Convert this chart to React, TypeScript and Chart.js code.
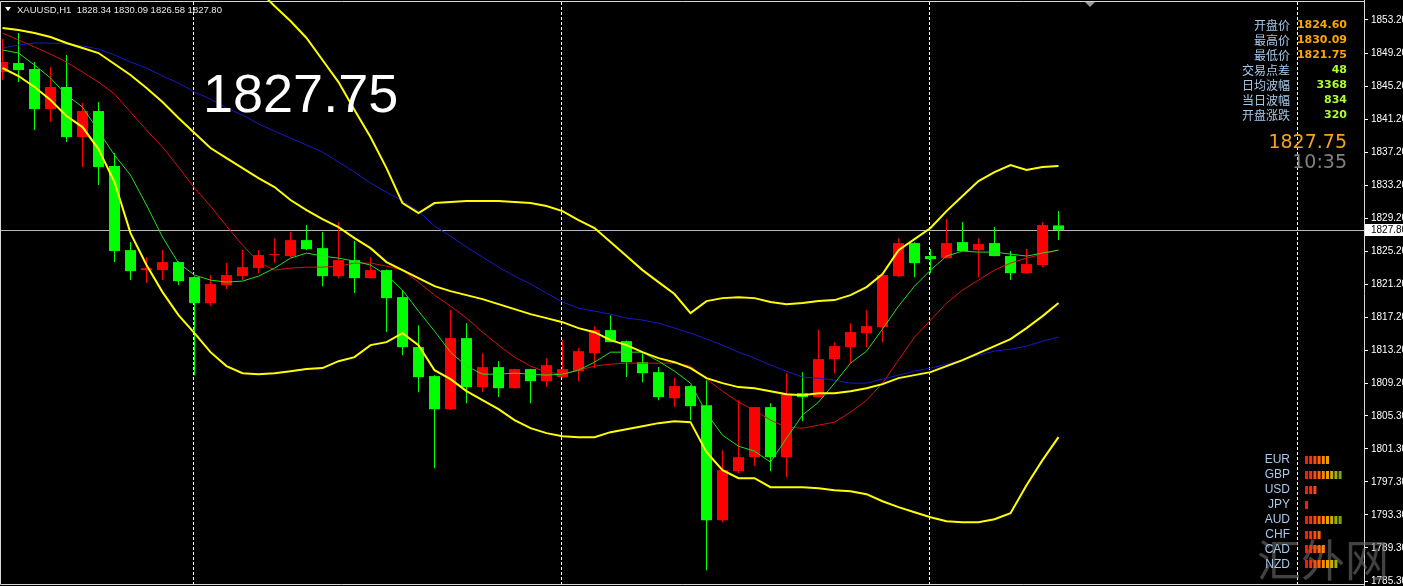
import React, { useEffect, useRef } from 'react';
import { Chart, registerables } from 'chart.js';

Chart.register(...registerables);

// ---- Candle data (XAUUSD H1) ----
const OPEN = [
  1846.90, 1847.99, 1847.27, 1842.42, 1845.09, 1839.03, 1842.18, 1835.52, 1825.35, 1822.93,
  1822.93, 1823.90, 1822.08, 1818.94, 1821.12, 1822.20, 1823.17, 1824.75, 1824.63, 1826.56,
  1825.59, 1822.20, 1824.14, 1821.96, 1822.93, 1819.66, 1813.61, 1810.10, 1806.10, 1814.70,
  1808.77, 1811.19, 1808.64, 1810.95, 1809.49, 1809.98, 1810.70, 1812.88, 1815.67, 1814.33,
  1811.79, 1810.58, 1807.43, 1808.89, 1806.59, 1792.66, 1798.60, 1800.29, 1806.35, 1800.29,
  1808.04, 1807.56, 1812.16, 1813.61, 1815.30, 1816.03, 1822.20, 1826.20, 1824.63, 1824.38,
  1826.32, 1825.35, 1826.20, 1824.63, 1822.57, 1823.54, 1828.34,
];
const HIGH = [
  1850.90, 1851.62, 1848.11, 1847.51, 1848.96, 1843.15, 1843.27, 1837.10, 1826.32, 1824.50,
  1825.35, 1824.00, 1822.20, 1822.33, 1823.78, 1825.35, 1825.35, 1826.80, 1827.53, 1828.38,
  1827.53, 1828.74, 1826.44, 1824.50, 1823.00, 1820.51, 1816.27, 1810.22, 1818.09, 1816.51,
  1812.88, 1811.91, 1811.00, 1811.00, 1812.28, 1814.46, 1813.49, 1816.15, 1817.48, 1814.40,
  1812.88, 1811.19, 1809.86, 1809.00, 1809.61, 1801.14, 1807.19, 1806.35, 1806.83, 1810.46,
  1810.58, 1815.67, 1814.21, 1816.51, 1818.09, 1822.33, 1826.80, 1826.30, 1825.47, 1829.11,
  1828.74, 1826.80, 1828.14, 1825.23, 1825.47, 1828.74, 1830.09,
];
const LOW = [
  1845.93, 1845.69, 1839.88, 1840.85, 1838.43, 1835.40, 1833.22, 1823.90, 1821.72, 1821.36,
  1821.72, 1821.12, 1810.22, 1818.57, 1820.63, 1821.72, 1822.57, 1823.78, 1824.50, 1825.35,
  1820.99, 1821.96, 1820.15, 1821.90, 1815.43, 1812.64, 1808.16, 1798.96, 1806.00, 1806.83,
  1808.16, 1807.56, 1808.60, 1806.83, 1808.77, 1809.90, 1809.49, 1811.07, 1814.20, 1809.98,
  1809.37, 1807.19, 1806.35, 1804.77, 1786.61, 1792.42, 1798.36, 1799.20, 1798.60, 1797.87,
  1804.65, 1807.50, 1810.46, 1811.67, 1813.61, 1814.21, 1822.10, 1822.08, 1822.57, 1824.30,
  1825.23, 1822.08, 1824.60, 1821.72, 1822.50, 1823.29, 1826.58,
];
const CLOSE = [
  1848.11, 1847.14, 1842.42, 1845.09, 1839.03, 1842.18, 1835.40, 1825.23, 1822.81, 1823.17,
  1823.90, 1821.60, 1818.94, 1821.24, 1822.33, 1823.29, 1824.75, 1824.87, 1826.56, 1825.47,
  1822.20, 1824.14, 1821.96, 1822.93, 1819.54, 1813.61, 1809.98, 1806.10, 1814.70, 1808.77,
  1811.19, 1808.64, 1810.95, 1809.49, 1811.43, 1810.95, 1813.12, 1815.67, 1814.21, 1811.79,
  1810.46, 1807.56, 1808.89, 1806.47, 1792.66, 1798.72, 1800.29, 1806.35, 1800.29, 1807.92,
  1807.56, 1812.16, 1813.73, 1815.43, 1816.15, 1822.33, 1826.20, 1823.78, 1824.26, 1826.20,
  1825.23, 1826.08, 1824.63, 1822.57, 1823.66, 1828.38, 1827.80,
];

// ---- Indicator lines ----
const MA_FAST = [
  1849.57, 1849.20, 1847.75, 1846.18, 1844.12, 1842.67, 1839.76, 1836.85, 1834.43, 1830.80,
  1826.93, 1823.78, 1822.33, 1821.72, 1821.48, 1821.60, 1822.20, 1823.17, 1824.38, 1824.99,
  1824.63, 1824.38, 1824.02, 1823.54, 1822.33, 1820.51, 1817.97, 1815.55, 1813.00, 1811.31,
  1810.34, 1810.34, 1810.46, 1810.34, 1810.22, 1810.34, 1810.82, 1811.79, 1813.00, 1813.00,
  1813.00, 1811.91, 1810.70, 1809.25, 1805.62, 1802.95, 1801.62, 1801.02, 1799.69, 1802.59,
  1805.38, 1806.95, 1809.25, 1811.67, 1813.12, 1815.79, 1818.57, 1820.99, 1822.93, 1824.63,
  1825.23, 1825.11, 1825.11, 1824.87, 1824.63, 1824.99, 1825.35,
];
const MA_MID = [
  1851.62, 1850.78, 1849.93, 1849.08, 1848.11, 1846.90, 1845.69, 1844.24, 1842.06, 1839.88,
  1837.82, 1835.40, 1832.86, 1830.68, 1828.26, 1825.96, 1823.90, 1822.93, 1823.17, 1823.29,
  1823.29, 1823.42, 1823.78, 1823.78, 1823.42, 1822.93, 1821.48, 1819.90, 1818.57, 1817.12,
  1815.43, 1813.85, 1812.40, 1811.31, 1810.58, 1810.34, 1810.82, 1811.31, 1811.55, 1811.67,
  1811.67, 1811.67, 1811.67, 1811.31, 1809.73, 1808.28, 1806.95, 1805.98, 1804.77, 1803.92,
  1803.80, 1804.17, 1804.53, 1805.74, 1807.19, 1809.25, 1812.03, 1814.82, 1816.88, 1818.94,
  1820.51, 1821.72, 1822.93, 1823.78, 1824.38, 1824.87, 1825.35,
];
const MA_SLOW = [
  1849.81, 1850.17, 1850.41, 1850.41, 1850.29, 1850.05, 1849.69, 1848.96, 1848.11, 1847.39,
  1846.42, 1845.57, 1844.48, 1843.63, 1842.54, 1841.70, 1840.61, 1839.76, 1838.91, 1838.07,
  1837.22, 1836.01, 1834.80, 1833.46, 1832.37, 1831.29, 1830.07, 1828.26, 1827.05, 1825.72,
  1824.51, 1823.29, 1822.20, 1821.24, 1820.15, 1819.06, 1818.33, 1817.97, 1817.60, 1817.12,
  1816.88, 1816.51, 1815.91, 1815.30, 1814.58, 1813.85, 1813.00, 1812.28, 1811.43, 1810.70,
  1809.98, 1809.86, 1809.61, 1809.25, 1809.25, 1809.73, 1810.22, 1810.70, 1811.07, 1811.55,
  1812.03, 1812.64, 1813.12, 1813.37, 1813.73, 1814.33, 1814.82,
];
const BB_UPPER = [
  null, null, null, null, null, null, null, null, null, null,
  null, null, null, null, null, null, 1856.83, 1854.89, 1853.08, 1851.02,
  1848.36, 1845.69, 1842.30, 1839.03, 1835.28, 1831.04, 1829.83, 1831.04, 1831.16, 1831.29,
  1831.29, 1831.29, 1831.16, 1831.04, 1830.68, 1830.07, 1828.98, 1828.02, 1826.32, 1824.63,
  1822.93, 1821.48, 1820.03, 1817.72, 1819.18, 1819.54, 1819.66, 1819.54, 1819.06, 1818.81,
  1818.94, 1819.18, 1819.30, 1819.90, 1820.87, 1822.45, 1825.35, 1826.68, 1828.02, 1830.07,
  1831.91, 1833.71, 1834.80, 1835.64, 1835.04, 1835.40, 1835.53,
];
const BB_MIDDLE = [
  1852.23, 1851.99, 1851.62, 1851.14, 1850.41, 1849.81, 1849.20, 1847.87, 1846.54, 1844.97,
  1843.27, 1841.33, 1839.52, 1837.70, 1836.49, 1835.28, 1834.07, 1832.98, 1831.41, 1830.20,
  1829.11, 1828.14, 1826.81, 1825.59, 1823.90, 1822.93, 1821.96, 1820.99, 1820.39, 1819.90,
  1819.42, 1818.81, 1818.21, 1817.60, 1817.12, 1816.63, 1815.91, 1815.42, 1814.46, 1813.85,
  1813.00, 1812.28, 1811.79, 1811.07, 1809.86, 1809.25, 1808.77, 1808.64, 1808.28, 1807.92,
  1807.80, 1808.04, 1808.04, 1808.28, 1808.64, 1809.13, 1809.86, 1810.22, 1810.58, 1811.31,
  1812.03, 1812.88, 1813.73, 1814.58, 1815.91, 1817.36, 1818.94,
];
const BB_LOWER = [
  1847.39, 1846.42, 1845.09, 1843.51, 1841.58, 1840.24, 1837.58, 1833.59, 1827.41, 1823.54,
  1820.27, 1817.48, 1815.30, 1813.00, 1811.31, 1810.46, 1810.34, 1810.46, 1810.70, 1810.95,
  1811.07, 1811.91, 1812.40, 1813.85, 1814.21, 1815.30, 1813.85, 1810.82, 1809.73, 1808.28,
  1807.19, 1806.10, 1804.77, 1803.80, 1803.20, 1802.83, 1802.71, 1802.71, 1803.32, 1803.68,
  1804.04, 1804.41, 1804.65, 1804.53, 1800.90, 1798.72, 1797.75, 1797.75, 1796.66, 1796.66,
  1796.66, 1796.54, 1796.30, 1796.17, 1795.81, 1794.96, 1794.24, 1793.63, 1793.03, 1792.54,
  1792.42, 1792.42, 1792.78, 1793.51, 1796.90, 1799.93, 1802.71,
];

// ---- Axis / labels ----
const Y_TICKS = [
  1853.2, 1849.2, 1845.2, 1841.2, 1837.2, 1833.2, 1829.2, 1825.2, 1821.2,
  1817.2, 1813.2, 1809.2, 1805.3, 1801.3, 1797.3, 1793.3, 1789.3, 1785.3,
];
const Y_MIN = 1784.70;
const Y_MAX = 1855.62;
const X_MIN = -0.15625;
const X_MAX = 85.09375;
const DAY_SEPARATORS = [12, 35, 58, 81];
const LAST_PRICE = 1827.80;

const HEADER = 'XAUUSD,H1  1828.34 1830.09 1826.58 1827.80';
const BIG_PRICE = '1827.75';
const INFO_LABELS = ['开盘价', '最高价', '最低价', '交易点差', '日均波幅', '当日波幅', '开盘涨跌'];
const INFO_VALUES = ['1824.60', '1830.09', '1821.75', '48', '3368', '834', '320'];
const INFO_COLORS = ['#ffa500', '#ffa500', '#ffa500', '#adff2f', '#adff2f', '#adff2f', '#adff2f'];
const BID_TEXT = '1827.75';
const TIME_TEXT = '10:35';
const CURRENCIES = ['EUR', 'GBP', 'USD', 'JPY', 'AUD', 'CHF', 'CAD', 'NZD'];
const STRENGTH = [6, 9, 3, 1, 9, 4, 5, 8];
const STRENGTH_COLORS = ['#ff1a00', '#ff3000', '#ff4c00', '#ff6600', '#ff8400', '#eca000', '#c8b000', '#a0b000', '#7ca800'];
const WATERMARK = '汇外网';

const overlay = {
  id: 'mt4overlay',
  beforeDatasetsDraw(chart: any) {
    const { ctx, chartArea, scales } = chart;
    ctx.save();
    // day separators
    ctx.strokeStyle = '#ffffff';
    ctx.lineWidth = 1;
    ctx.setLineDash([3, 2]);
    for (const s of DAY_SEPARATORS) {
      const x = Math.floor(scales.x.getPixelForValue(s)) - 0.5;
      ctx.beginPath();
      ctx.moveTo(x, chartArea.top + 2);
      ctx.lineTo(x, chartArea.bottom);
      ctx.stroke();
    }
    ctx.setLineDash([]);
    // bid line
    const py = Math.round(scales.y.getPixelForValue(LAST_PRICE)) + 0.5;
    ctx.strokeStyle = '#b8b8b8';
    ctx.beginPath();
    ctx.moveTo(chartArea.left, py);
    ctx.lineTo(chartArea.right, py);
    ctx.stroke();
    ctx.restore();
  },
  afterDatasetsDraw(chart: any) {
    const { ctx, chartArea, scales } = chart;
    ctx.save();
    // frame
    ctx.strokeStyle = '#d8d8d8';
    ctx.lineWidth = 1;
    ctx.beginPath();
    ctx.moveTo(0.5, 1.5);
    ctx.lineTo(chartArea.right, 1.5);
    ctx.moveTo(0.5, 1.5);
    ctx.lineTo(0.5, 584.5);
    ctx.lineTo(chartArea.right, 584.5);
    ctx.stroke();

    // header
    ctx.fillStyle = '#ffffff';
    ctx.beginPath();
    ctx.moveTo(5, 7);
    ctx.lineTo(11, 7);
    ctx.lineTo(8, 11);
    ctx.closePath();
    ctx.fill();
    ctx.font = '9.5px "Liberation Sans"';
    ctx.textBaseline = 'alphabetic';
    ctx.textAlign = 'left';
    ctx.fillStyle = '#e8e8e8';
    ctx.fillText(HEADER, 17, 13);

    // chart shift marker
    ctx.fillStyle = '#9a9a9a';
    ctx.beginPath();
    ctx.moveTo(1085, 2);
    ctx.lineTo(1095, 2);
    ctx.lineTo(1090, 7);
    ctx.closePath();
    ctx.fill();

    // big price
    ctx.font = '54px "Liberation Sans"';
    ctx.fillStyle = '#ffffff';
    ctx.fillText(BIG_PRICE, 203, 112);

    // info panel
    ctx.textBaseline = 'middle';
    INFO_LABELS.forEach((lab, i) => {
      const y = 25 + i * 15;
      ctx.textAlign = 'right';
      ctx.font = '12px "Noto Sans CJK SC"';
      ctx.fillStyle = '#a8c8e8';
      ctx.fillText(lab, 1290, y);
      ctx.font = 'bold 11px "DejaVu Sans"';
      ctx.fillStyle = INFO_COLORS[i];
      ctx.fillText(INFO_VALUES[i], 1347, y);
    });
    ctx.textBaseline = 'alphabetic';
    ctx.textAlign = 'right';
    ctx.font = '19px "DejaVu Sans"';
    ctx.fillStyle = '#f5a31e';
    ctx.fillText(BID_TEXT, 1347, 148);
    ctx.fillStyle = '#808080';
    ctx.fillText(TIME_TEXT, 1347, 168);

    // watermark
    ctx.textAlign = 'left';
    ctx.font = '44px "Noto Sans CJK SC"';
    ctx.fillStyle = 'rgba(110,110,110,0.6)';
    ctx.fillText(WATERMARK, 1257, 577);

    // currency strength panel
    ctx.textBaseline = 'middle';
    CURRENCIES.forEach((c, i) => {
      const y = 460 + i * 14.9;
      ctx.textAlign = 'right';
      ctx.font = '12px "Liberation Sans"';
      ctx.fillStyle = '#a8c8e8';
      ctx.fillText(c, 1290, y);
      for (let k = 0; k < STRENGTH[i]; k++) {
        ctx.fillStyle = STRENGTH_COLORS[k];
        ctx.fillRect(1305 + k * 4.2, Math.round(y) - 4, 3, 8);
      }
    });

    // bid label on axis
    const py = Math.round(scales.y.getPixelForValue(LAST_PRICE));
    ctx.fillStyle = '#ffffff';
    ctx.fillRect(chartArea.right + 1, py - 6, 1403 - chartArea.right, 12);
    ctx.fillStyle = '#000000';
    ctx.textAlign = 'left';
    ctx.font = '10px "Liberation Sans"';
    ctx.fillText(LAST_PRICE.toFixed(2), chartArea.right + 7, py + 0.5);
    ctx.restore();
  },
};

export default function App() {
  const ref = useRef<HTMLCanvasElement>(null);

  useEffect(() => {
    document.body.style.margin = '0';
    document.body.style.background = '#000';
    const canvas = ref.current;
    if (!canvas) return;
    const idx = OPEN.map((_, i) => i);
    const colors = idx.map((i) => (CLOSE[i] >= OPEN[i] ? '#ff0000' : '#00ff00'));
    const line = (label: string, arr: (number | null)[], color: string, width: number, order: number) => ({
      type: 'line' as const,
      label,
      data: arr.map((v, i) => ({ x: i, y: v })),
      borderColor: color,
      borderWidth: width,
      pointRadius: 0,
      tension: 0,
      fill: false,
      spanGaps: false,
      order,
    });

    const chart = new Chart(canvas, {
      type: 'bar',
      data: {
        datasets: [
          {
            type: 'bar',
            label: 'wick',
            data: idx.map((i) => ({ x: i, y: [LOW[i], HIGH[i]] })) as any,
            backgroundColor: colors,
            barThickness: 1,
            grouped: false,
            inflateAmount: 0,
            borderWidth: 0,
            order: 6,
          } as any,
          {
            type: 'bar',
            label: 'body',
            data: idx.map((i) => ({ x: i, y: [OPEN[i], CLOSE[i]] })) as any,
            backgroundColor: colors,
            barThickness: 11,
            grouped: false,
            minBarLength: 1,
            inflateAmount: 0,
            borderWidth: 0,
            order: 5,
          } as any,
          line('MA slow', MA_SLOW, '#1818c8', 1, 3) as any,
          line('MA mid', MA_MID, '#d81010', 1, 3) as any,
          line('MA fast', MA_FAST, '#20e020', 1, 2) as any,
          line('BB upper', BB_UPPER, '#ffff00', 2, 1) as any,
          line('BB middle', BB_MIDDLE, '#ffff00', 2, 1) as any,
          line('BB lower', BB_LOWER, '#ffff00', 2, 1) as any,
        ],
      },
      options: {
        animation: false,
        responsive: false,
        maintainAspectRatio: false,
        devicePixelRatio: 1,
        events: [],
        layout: { padding: 0 },
        plugins: { legend: { display: false }, tooltip: { enabled: false } },
        scales: {
          x: { type: 'linear', display: false, offset: false, min: X_MIN, max: X_MAX },
          y: {
            type: 'linear',
            position: 'right',
            min: Y_MIN,
            max: Y_MAX,
            afterBuildTicks: (s: any) => {
              s.ticks = Y_TICKS.map((v) => ({ value: v }));
            },
            afterFit: (s: any) => {
              s.width = 39;
              s.paddingTop = 0;
              s.paddingBottom = 0;
            },
            ticks: {
              color: '#ffffff',
              font: { family: 'Liberation Sans', size: 10 },
              padding: 3,
              autoSkip: false,
              callback: (v: any) => Number(v).toFixed(2),
            },
            grid: { drawOnChartArea: false, drawTicks: true, tickLength: 4, tickColor: '#ffffff', color: '#ffffff' },
            border: { display: true, color: '#d8d8d8' },
          },
        },
      } as any,
      plugins: [overlay],
    });
    return () => chart.destroy();
  }, []);

  return (
    <div style={{ position: 'fixed', left: 0, top: 0, width: 1403, height: 586, background: '#000' }}>
      <canvas ref={ref} width={1403} height={586} style={{ display: 'block' }} />
    </div>
  );
}
